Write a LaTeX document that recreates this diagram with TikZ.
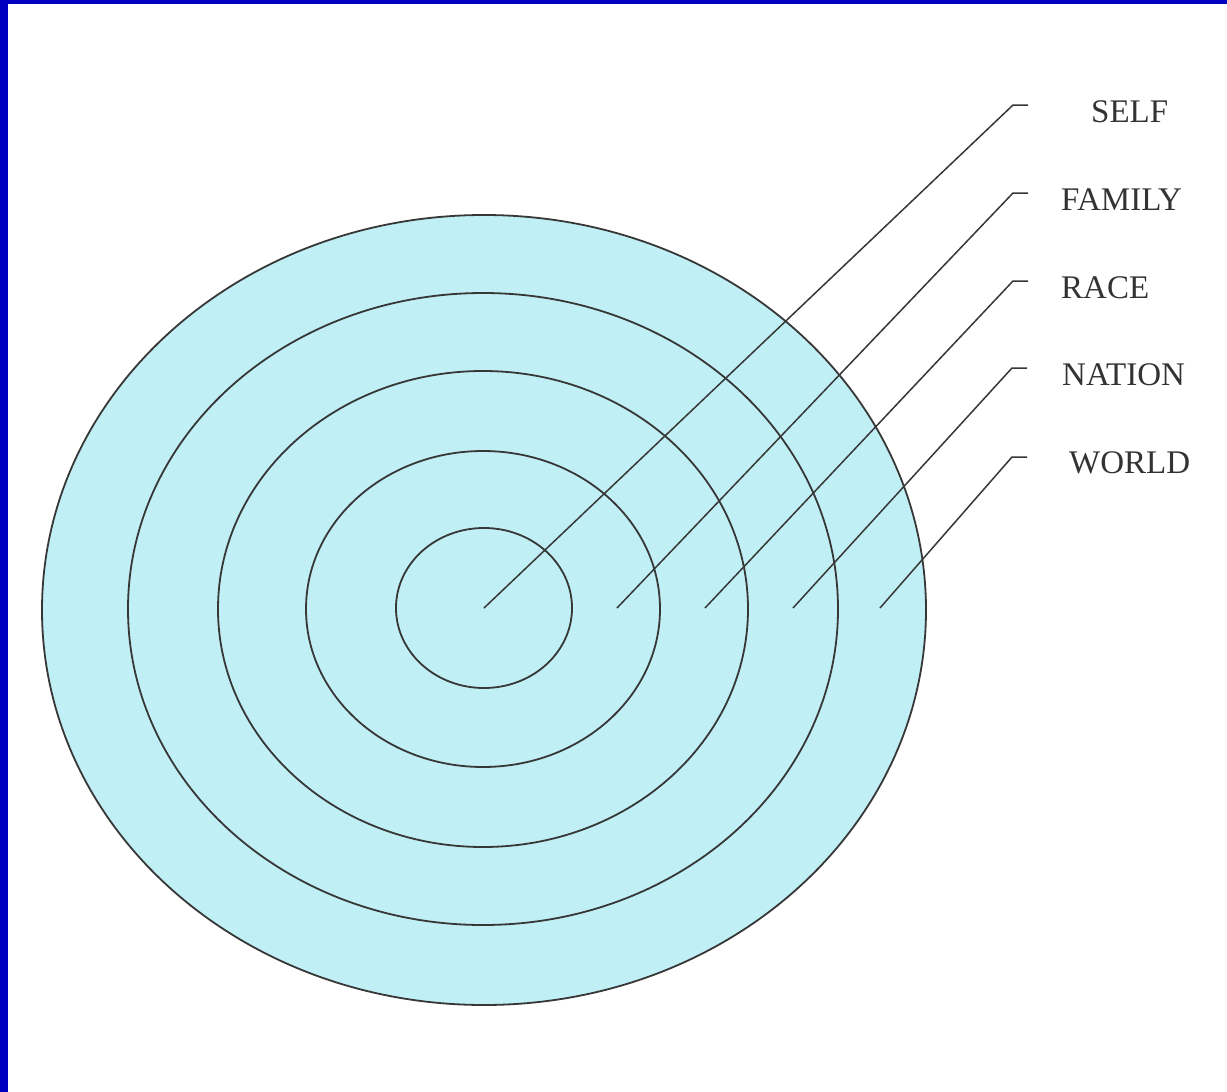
\documentclass[tikz,border=0pt]{standalone}
\usepackage{fontspec}
\setmainfont{Liberation Serif}
\definecolor{ringfill}{RGB}{192,240,245}
\definecolor{ringline}{RGB}{55,55,55}
\definecolor{frameblue}{RGB}{0,0,192}
\begin{document}
\begin{tikzpicture}[x=1pt,y=-1pt,
  ring/.style={draw=ringline,line width=1.8pt},
  leader/.style={draw=ringline,line width=1.5pt},
  lbl/.style={anchor=west,inner sep=0pt,font=\fontsize{33}{33}\selectfont,text=black!80}]
\useasboundingbox (0,0) rectangle (1227,1092);
\fill[white] (0,0) rectangle (1227,1092);
\fill[frameblue] (0,0) rectangle (8,1092);
\fill[frameblue] (0,0) rectangle (1227,4);
% rings
\filldraw[ring,fill=ringfill] (484,610) ellipse [x radius=442,y radius=395];
\draw[ring] (483,609) ellipse [x radius=355,y radius=316];
\draw[ring] (483,609) ellipse [x radius=265,y radius=238];
\draw[ring] (483,609) ellipse [x radius=177,y radius=158];
\draw[ring] (484,608) ellipse [x radius=88,y radius=80];
% anchor points
\coordinate (pSelf) at (484,608);
\coordinate (pFamily) at (617,608);
\coordinate (pRace) at (705,608);
\coordinate (pNation) at (793,608);
\coordinate (pWorld) at (880,608);
\coordinate (hSelf) at (1013,105);
\coordinate (hFamily) at (1013,193);
\coordinate (hRace) at (1013,281);
\coordinate (hNation) at (1012,368);
\coordinate (hWorld) at (1012,457);
% labels
\node[lbl] (tSelf) at (1091,112) {SELF};
\node[lbl] (tFamily) at (1061,200) {FAMILY};
\node[lbl] (tRace) at (1061,288) {RACE};
\node[lbl] (tNation) at (1062,375) {NATION};
\node[lbl] (tWorld) at (1069,463) {WORLD};
% leaders
\draw[leader] (pSelf) -- (hSelf) -- ++(15,0);
\draw[leader] (pFamily) -- (hFamily) -- ++(15,0);
\draw[leader] (pRace) -- (hRace) -- ++(15,0);
\draw[leader] (pNation) -- (hNation) -- ++(15,0);
\draw[leader] (pWorld) -- (hWorld) -- ++(15,0);
\end{tikzpicture}
\end{document}
